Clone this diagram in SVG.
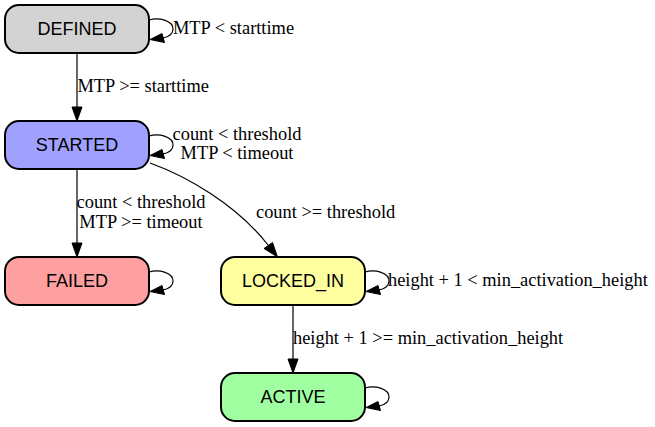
<svg xmlns="http://www.w3.org/2000/svg" width="655" height="427" viewBox="0 0 655 427">
<style>
.node rect{stroke:#000;stroke-width:2}
.nl{font-family:"Liberation Sans",Arial,sans-serif;font-size:18px;text-anchor:middle;fill:#000}
.el{font-family:"Liberation Serif","Times New Roman",serif;font-size:18.4px;fill:#000}
.edge path{fill:none;stroke:#000;stroke-width:1.2}
.edge polygon{fill:#000;stroke:#000;stroke-width:1}
</style>
<rect width="655" height="427" fill="#fff"/>
<g id="connectors">
  <g class="edge" id="e-defined-loop">
    <path d="M149,20 C160,17 173,21 173,29 C173,35 168,37 163,38"/>
    <polygon points="162,33.5 150,39.5 164.5,42.5"/>
  </g>
  <g class="edge" id="e-defined-started">
    <path d="M77,53 L77,108"/>
    <polygon points="72,107 77,121 82,107"/>
  </g>
  <g class="edge" id="e-started-loop">
    <path d="M149,136 C160,133 173,137 173,145 C173,151 168,153 163,154"/>
    <polygon points="162,149.5 150,155.5 164.5,158.5"/>
  </g>
  <g class="edge" id="e-started-failed">
    <path d="M77,169 L77,244"/>
    <polygon points="72,243 77,257 82,243"/>
  </g>
  <g class="edge" id="e-started-locked">
    <path d="M150,163 C186,176 236,204 268,245"/>
    <polygon points="264,248.5 277.5,257 272.5,242.5"/>
  </g>
  <g class="edge" id="e-failed-loop">
    <path d="M149,272 C160,269 173,273 173,281 C173,287 168,289 163,290"/>
    <polygon points="162,285.5 150,291.5 164.5,294.5"/>
  </g>
  <g class="edge" id="e-locked-loop">
    <path d="M365,272 C376,269 389,273 389,281 C389,287 384,289 379,290"/>
    <polygon points="378,285.5 366,291.5 380.5,294.5"/>
  </g>
  <g class="edge" id="e-locked-active">
    <path d="M293,305 L293,360"/>
    <polygon points="288,359 293,373 298,359"/>
  </g>
  <g class="edge" id="e-active-loop">
    <path d="M365,388 C376,385 389,389 389,397 C389,403 384,405 379,406"/>
    <polygon points="378,401.5 366,407.5 380.5,410.5"/>
  </g>
  <text class="el" x="173" y="34">MTP &lt; starttime</text>
  <text class="el" x="77.5" y="92">MTP &gt;= starttime</text>
  <text class="el" x="237" y="140" text-anchor="middle">count &lt; threshold</text>
  <text class="el" x="237" y="159" text-anchor="middle">MTP &lt; timeout</text>
  <text class="el" x="141" y="208" text-anchor="middle">count &lt; threshold</text>
  <text class="el" x="141" y="227.5" text-anchor="middle">MTP &gt;= timeout</text>
  <text class="el" x="256" y="217.5">count &gt;= threshold</text>
  <text class="el" x="388" y="286">height + 1 &lt; min_activation_height</text>
  <text class="el" x="293" y="343.5">height + 1 &gt;= min_activation_height</text>
</g>
<g class="node" id="n-defined">
  <rect x="5" y="5" width="144" height="48" rx="14" fill="#d3d3d3"/>
  <text class="nl" x="77" y="34.5">DEFINED</text>
</g>
<g class="node" id="n-started">
  <rect x="5" y="121" width="144" height="48" rx="14" fill="#a0a0ff"/>
  <text class="nl" x="77" y="150.5">STARTED</text>
</g>
<g class="node" id="n-failed">
  <rect x="5" y="257" width="144" height="48" rx="14" fill="#ffa0a0"/>
  <text class="nl" x="77" y="286.5">FAILED</text>
</g>
<g class="node" id="n-locked-in">
  <rect x="221" y="257" width="144" height="48" rx="14" fill="#ffffa0"/>
  <text class="nl" x="293" y="286.5">LOCKED_IN</text>
</g>
<g class="node" id="n-active">
  <rect x="221" y="373" width="144" height="48" rx="14" fill="#a0ffa0"/>
  <text class="nl" x="293" y="402.5">ACTIVE</text>
</g>
</svg>
